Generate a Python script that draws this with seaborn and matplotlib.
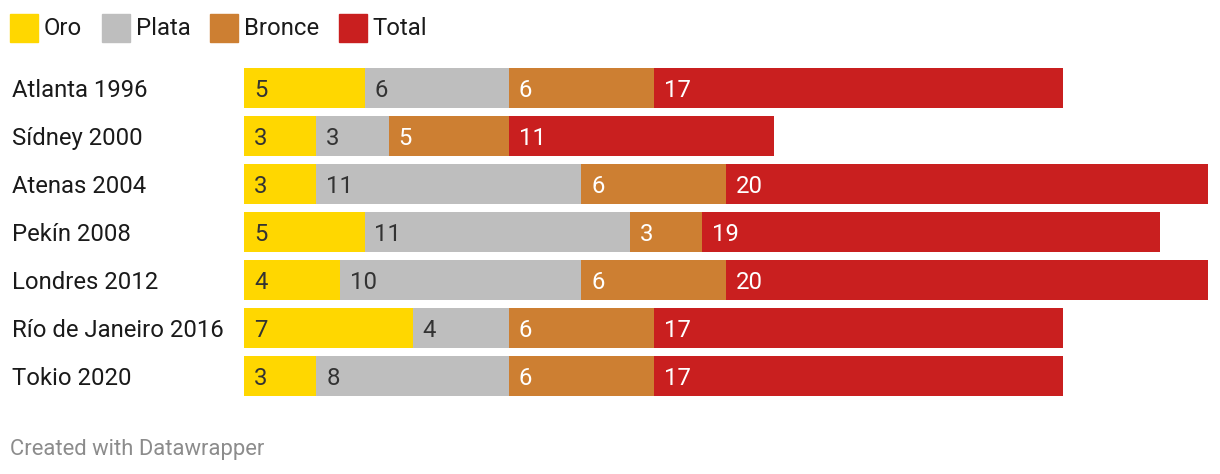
import numpy as np
import pandas as pd
import matplotlib.pyplot as plt
import seaborn as sns
from matplotlib.patches import Rectangle
from matplotlib.transforms import blended_transform_factory

# data
juegos = ["Atlanta 1996", "Sídney 2000", "Atenas 2004", "Pekín 2008",
          "Londres 2012", "Río de Janeiro 2016", "Tokio 2020"]
oro = [5, 3, 3, 5, 4, 7, 3]
plata = [6, 3, 11, 11, 10, 4, 8]
bronce = [6, 5, 6, 3, 6, 6, 6]
total = [17, 11, 20, 19, 20, 17, 17]

series = ["Oro", "Plata", "Bronce", "Total"]
colors = ["#FFD700", "#BEBEBE", "#CD7F32", "#C91F1F"]
text_colors = ["#333333", "#333333", "#FFFFFF", "#FFFFFF"]

sns.set_style("white")
plt.rcParams['font.family'] = ['Roboto', 'DejaVu Sans']
FS = 17.2

df = pd.DataFrame({"juego": juegos, "Oro": oro, "Plata": plata,
                   "Bronce": bronce, "Total": total})
cum = df[series].cumsum(axis=1)
starts = cum - df[series]

W, H = 1220, 474
fig = plt.figure(figsize=(W / 100, H / 100), dpi=100)
ax = fig.add_axes([244 / W, (H - 400) / H, 964 / W, 336 / H])

# stacked bars: draw cumulative sums from the longest down
for s, c in reversed(list(zip(series, colors))):
    sns.barplot(x=cum[s], y=df["juego"], color=c, width=0.83,
                saturation=1, ax=ax, orient="h", linewidth=0)

ax.set_xlim(0, 40)
ax.set_ylim(6.5, -0.5)
ax.set_xlabel("")
ax.set_ylabel("")
ax.set_xticks([])
ax.set_yticks([])
sns.despine(ax=ax, left=True, bottom=True)

# category labels, left aligned at the figure edge
tr = blended_transform_factory(fig.transFigure, ax.transData)
for i, j in enumerate(juegos):
    ax.text(12 / W, i, j, transform=tr, fontsize=FS, color="#1a1a1a",
            va="center_baseline", ha="left")

# value labels
for i in range(len(juegos)):
    for s, tc in zip(series, text_colors):
        ax.text(starts.loc[i, s] + 0.41, i, str(df.loc[i, s]), color=tc,
                fontsize=FS, va="center_baseline", ha="left")

# legend
x = 10
for s, c in zip(series, colors):
    fig.patches.append(Rectangle((x / W, 1 - 42 / H), 28 / W, 28 / H,
                                 transform=fig.transFigure, color=c))
    t = fig.text((x + 34) / W, 1 - 26 / H, s, fontsize=FS, color="#1a1a1a",
                 va="center_baseline", ha="left")
    fig.canvas.draw()
    bb = t.get_window_extent()
    x = bb.x1 + 19.5

fig.text(10 / W, 1 - 447 / H, "Created with Datawrapper", fontsize=15.8,
         color="#8C8C8C", va="center_baseline", ha="left")

fig.savefig("out.png", dpi=100)
